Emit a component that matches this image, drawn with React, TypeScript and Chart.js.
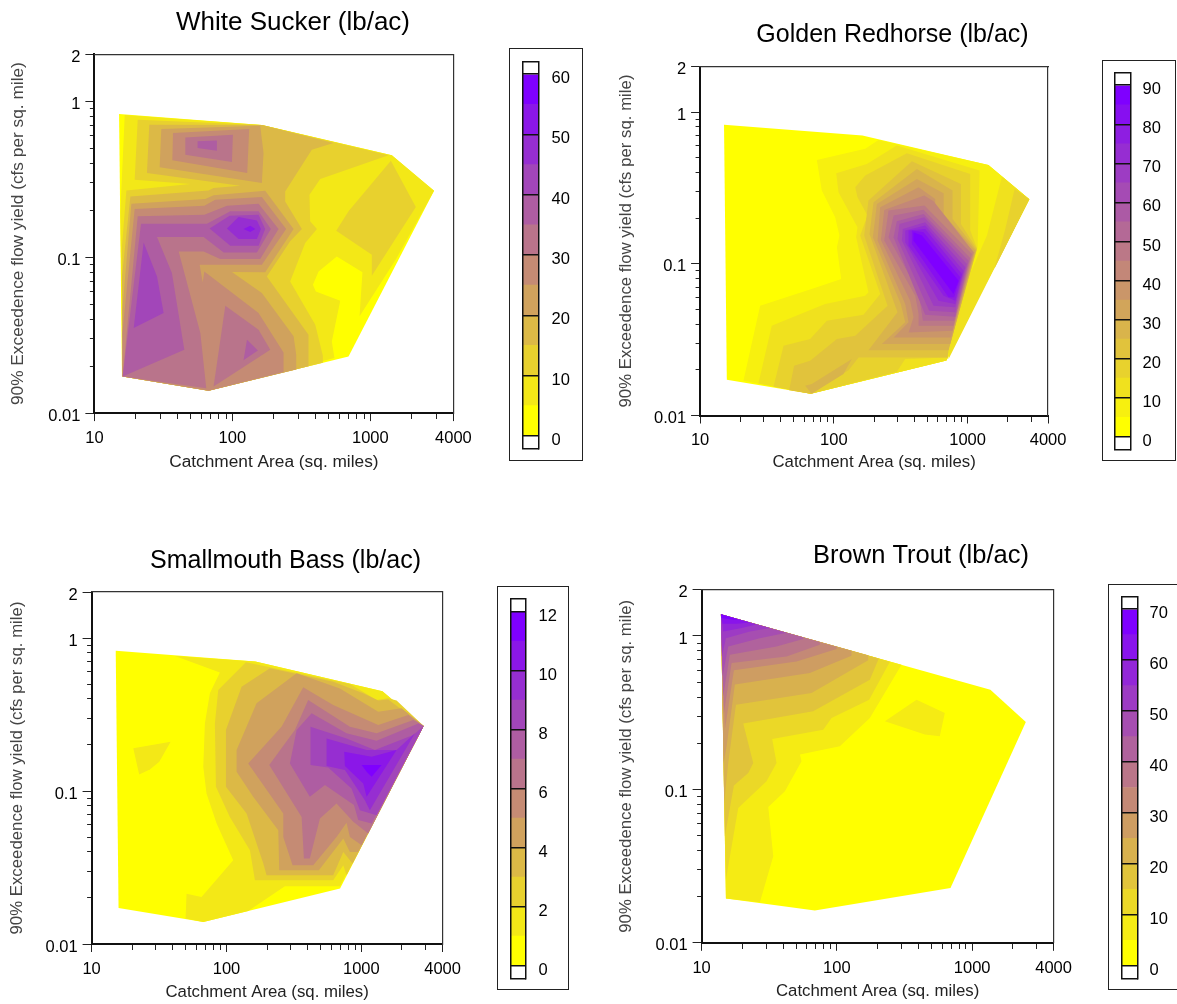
import React, { useEffect, useRef } from "react";
import { Chart, registerables } from "chart.js";

Chart.register(...registerables);

type Layer = [number, number[][]];

// Contour regions: [band index, [log10 area, log10 yield] vertices].
const HULL = [[1.179, -0.083], [2.214, -0.154], [3.156, -0.348], [3.462, -0.575], [2.842, -1.637], [1.828, -1.857], [1.2, -1.765]];
const C: number[] = [3.462, -0.575];

const whiteSucker: Layer[] = [
  [0, HULL],
  [1, [[1.22, -0.09], [2.214, -0.154], [3.156, -0.348], [3.462, -0.575], [3.187, -1.013], [2.922, -1.38], [2.943, -1.098], [2.757, -0.996], [2.625, -1.092], [2.584, -1.177], [2.605, -1.22], [2.782, -1.28], [2.721, -1.541], [2.74, -1.647], [1.828, -1.857], [1.205, -1.765], [1.188, -0.718]]],
  [2, [[3.149, -0.382], [3.33, -0.679], [3.011, -1.12], [3.011, -0.985], [2.753, -0.831], [2.842, -0.707]]],
  [2, [[1.314, -0.119], [2.214, -0.154], [3.132, -0.348], [2.637, -0.5], [2.559, -0.6], [2.564, -0.771], [2.613, -0.82], [2.528, -0.91], [2.419, -1.156], [2.601, -1.434], [2.656, -1.632], [2.656, -1.677], [1.828, -1.857], [1.205, -1.765], [1.2, -0.931], [1.232, -0.573], [1.695, -0.532], [1.292, -0.504]]],
  [3, [[1.398, -0.152], [2.214, -0.154], [2.733, -0.269], [2.576, -0.312], [2.383, -0.579], [2.383, -0.643], [2.504, -0.82], [2.419, -0.899], [2.25, -1.124], [2.552, -1.498], [2.552, -1.699], [1.828, -1.857], [1.205, -1.765], [1.2, -1.124], [1.261, -0.611], [1.828, -0.573], [1.864, -0.558], [2.057, -0.543], [1.381, -0.461]]],
  [4, [[1.485, -0.179], [2.202, -0.158], [2.226, -0.333], [2.214, -0.525], [1.473, -0.425]]],
  [4, [[1.268, -0.658], [1.804, -0.628], [1.864, -0.604], [2.238, -0.575], [2.444, -0.82], [2.238, -1.098], [1.997, -1.096], [2.214, -1.231], [2.444, -1.508], [2.463, -1.626], [2.463, -1.72], [1.828, -1.857], [1.205, -1.765], [1.203, -1.338]]],
  [5, [[1.57, -0.205], [2.122, -0.179], [2.108, -0.461], [1.565, -0.38]]],
  [5, [[1.292, -0.692], [1.797, -0.671], [1.876, -0.632], [2.214, -0.615], [2.39, -0.82], [2.214, -1.049], [1.763, -1.049], [1.785, -1.162], [1.797, -1.092], [2.19, -1.359], [2.371, -1.611], [2.371, -1.737], [1.828, -1.857], [1.205, -1.765], [1.203, -1.487]]],
  [6, [[1.659, -0.233], [2.004, -0.216], [1.997, -0.391], [1.659, -0.344]]],
  [6, [[1.314, -0.739], [1.797, -0.729], [1.961, -0.671], [2.19, -0.658], [2.335, -0.82], [2.202, -1.013], [1.912, -1.013], [1.792, -0.964], [1.611, -0.964], [1.768, -1.487], [1.811, -1.84], [1.205, -1.765]]],
  [6, [[1.949, -1.312], [2.19, -1.466], [2.275, -1.594], [1.864, -1.829]]],
  [7, [[1.338, -0.786], [1.816, -0.786], [1.985, -0.707], [2.19, -0.707], [2.279, -0.82], [2.178, -0.97], [1.937, -0.97], [1.792, -0.872], [1.454, -0.872], [1.562, -1.102], [1.652, -1.594], [1.205, -1.765]]],
  [7, [[1.748, -0.258], [1.888, -0.252], [1.888, -0.318], [1.748, -0.301]]],
  [7, [[2.106, -1.53], [2.185, -1.598], [2.081, -1.662]]],
  [8, [[1.835, -0.816], [1.98, -0.735], [2.19, -0.729], [2.238, -0.82], [2.19, -0.927], [1.985, -0.927]]],
  [8, [[1.357, -0.906], [1.454, -1.124], [1.502, -1.359], [1.285, -1.455]]],
  [9, [[1.961, -0.816], [2.045, -0.743], [2.178, -0.765], [2.207, -0.82], [2.178, -0.884], [2.045, -0.884]]],
  [10, [[2.081, -0.82], [2.13, -0.799], [2.166, -0.82], [2.13, -0.84]]],
];

const goldenRedhorse: Layer[] = [
  [0, HULL],
  [1, [[2.334, -0.183], [3.157, -0.348], [3.462, -0.575], [2.842, -1.637], [1.828, -1.857], [1.324, -1.771], [1.449, -1.276], [1.873, -1.155], [2.055, -1.1], [2.023, -0.891], [2.042, -0.814], [2.01, -0.693], [1.91, -0.517], [1.873, -0.315], [2.235, -0.242]]],
  [2, [[3.257, -0.425], [3.462, -0.575], [2.858, -1.628], [2.858, -1.562], [2.995, -1.111], [3.145, -0.814]]],
  [3, [[3.352, -0.506], [3.462, -0.575], [3.2, -1.034], [3.282, -0.77]]],
  [2, [[2.471, -0.22], [3.09, -0.385], [3.075, -0.891], [2.851, -1.617], [2.842, -1.637], [1.828, -1.857], [1.436, -1.789], [1.536, -1.408], [1.599, -1.386], [1.935, -1.265], [2.235, -1.21], [2.259, -1.188], [2.167, -0.825], [2.177, -0.759], [2.035, -0.528], [2.018, -0.403], [2.247, -0.341]]],
  [3, [[2.546, -0.271], [3.02, -0.407], [3.02, -0.781], [3.07, -0.896], [2.858, -1.556], [2.851, -1.617], [2.534, -1.628], [2.471, -1.712], [1.828, -1.857], [1.549, -1.811], [1.624, -1.54], [1.823, -1.496], [1.948, -1.375], [2.222, -1.336], [2.347, -1.199], [2.197, -0.814], [2.252, -0.682], [2.177, -0.561], [2.16, -0.495], [2.235, -0.418]]],
  [4, [[2.584, -0.324], [2.95, -0.473], [2.95, -0.737], [3.07, -0.902], [2.858, -1.556], [2.851, -1.617], [2.185, -1.617], [2.11, -1.701], [1.828, -1.857], [1.666, -1.833], [1.703, -1.672], [1.823, -1.639], [2.023, -1.496], [2.16, -1.474], [2.402, -1.276], [2.227, -0.814], [2.259, -0.583]]],
  [5, [[2.621, -0.374], [2.888, -0.517], [2.888, -0.704], [3.065, -0.909], [2.858, -1.569], [2.259, -1.569], [2.476, -1.32], [2.267, -0.803], [2.297, -0.594]]],
  [5, [[1.786, -1.804], [1.835, -1.793], [2.135, -1.628], [2.072, -1.727], [1.835, -1.857]]],
  [6, [[2.621, -0.44], [2.821, -0.535], [2.821, -0.671], [3.058, -0.913], [2.871, -1.529], [2.359, -1.529], [2.534, -1.386], [2.501, -1.265], [2.292, -0.825], [2.322, -0.605]]],
  [7, [[2.634, -0.495], [2.758, -0.572], [2.758, -0.649], [3.05, -0.925], [2.876, -1.485], [2.447, -1.485], [2.559, -1.386], [2.534, -1.265], [2.327, -0.847], [2.347, -0.627]]],
  [8, [[2.676, -0.55], [2.746, -0.588], [3.045, -0.924], [2.888, -1.441], [2.559, -1.452], [2.596, -1.353], [2.571, -1.243], [2.352, -0.843], [2.377, -0.645]]],
  [9, [[2.678, -0.616], [3.033, -0.935], [2.895, -1.408], [2.634, -1.408], [2.634, -1.331], [2.609, -1.21], [2.377, -0.847], [2.409, -0.649]]],
  [10, [[2.447, -0.682], [2.671, -0.643], [3.02, -0.962], [2.9, -1.375], [2.666, -1.375], [2.634, -1.188], [2.409, -0.825]]],
  [11, [[2.471, -0.72], [2.671, -0.671], [3.008, -0.979], [2.908, -1.349], [2.683, -1.336], [2.447, -0.825]]],
  [12, [[2.491, -0.737], [2.676, -0.693], [2.995, -1.001], [2.908, -1.32], [2.713, -1.309], [2.476, -0.836]]],
  [13, [[2.516, -0.77], [2.683, -0.726], [2.983, -1.023], [2.908, -1.287], [2.746, -1.276], [2.509, -0.847]]],
  [14, [[2.534, -0.781], [2.683, -0.748], [2.97, -1.045], [2.908, -1.265], [2.783, -1.243], [2.534, -0.858]]],
  [15, [[2.559, -0.781], [2.683, -0.77], [2.958, -1.067], [2.908, -1.243], [2.821, -1.21], [2.559, -0.88]]],
  [16, [[2.584, -0.781], [2.671, -0.792], [2.945, -1.089], [2.9, -1.221], [2.858, -1.221], [2.584, -0.869]]],
  [17, [[2.596, -0.792], [2.658, -0.814], [2.933, -1.111], [2.895, -1.199], [2.596, -0.847]]],
];

const smallmouthBass: Layer[] = [
  [0, HULL],
  [1, [[1.618, -0.117], [2.214, -0.154], [3.156, -0.348], C, [2.841, -1.623], [2.433, -1.623], [2.161, -1.784], [1.828, -1.857], [1.697, -1.834], [1.704, -1.671], [1.815, -1.692], [2.05, -1.452], [1.927, -1.212], [1.852, -1.016], [1.828, -0.841], [1.84, -0.558], [1.877, -0.361], [1.951, -0.226]]],
  [1, [[1.309, -0.721], [1.586, -0.678], [1.502, -0.809], [1.432, -0.859], [1.353, -0.892]]],
  [2, [[2.144, -0.158], [2.915, -0.3], [3.113, -0.405], [3.199, -0.394], [3.261, -0.409], C, [2.89, -1.551], [2.866, -1.485], [2.791, -1.583], [2.211, -1.583], [2.174, -1.387], [2.025, -1.169], [1.922, -0.972], [1.914, -0.558], [1.939, -0.34]]],
  [3, [[2.322, -0.198], [2.791, -0.285], [3.014, -0.361], [3.125, -0.409], [3.199, -0.401], C, [2.935, -1.474], [2.866, -1.398], [2.791, -1.551], [2.297, -1.551], [2.273, -1.474], [2.149, -1.147], [1.996, -0.972], [1.996, -0.601], [2.112, -0.318]]],
  [4, [[2.52, -0.23], [2.841, -0.329], [3.125, -0.481], [3.298, -0.459], C, [2.977, -1.398], [2.915, -1.398], [2.866, -1.31], [2.685, -1.518], [2.391, -1.518], [2.384, -1.256], [2.198, -1.038], [2.075, -0.874], [2.075, -0.732], [2.223, -0.427]]],
  [5, [[2.569, -0.322], [2.791, -0.438], [3.125, -0.569], [3.347, -0.503], C, [3.002, -1.354], [2.915, -1.3], [2.89, -1.208], [2.816, -1.3], [2.643, -1.485], [2.49, -1.485], [2.421, -1.3], [2.421, -1.147], [2.161, -0.82], [2.408, -0.58]]],
  [6, [[2.606, -0.405], [2.915, -0.58], [3.113, -0.623], [3.385, -0.536], C, [3.051, -1.278], [2.94, -1.201], [2.816, -1.081], [2.693, -1.18], [2.618, -1.441], [2.574, -1.441], [2.557, -1.169], [2.317, -0.83], [2.507, -0.601]]],
  [7, [[2.631, -0.492], [2.89, -0.623], [3.113, -0.671], [3.422, -0.558], C, [3.076, -1.212], [2.977, -1.19], [2.945, -1.092], [2.73, -0.961], [2.618, -1.038], [2.47, -0.82], [2.52, -0.601]]],
  [8, [[2.623, -0.58], [2.89, -0.656], [3.1, -0.732], [3.385, -0.634], C, [3.113, -1.158], [2.989, -1.125], [2.927, -0.983], [2.754, -0.846], [2.623, -0.83]]],
  [9, [[2.742, -0.656], [3.039, -0.732], [3.261, -0.732], [3.397, -0.623], [3.063, -1.125], [3.026, -1.06], [2.878, -0.863], [2.742, -0.837]]],
  [10, [[2.873, -0.743], [3.076, -0.776], [3.261, -0.732], [3.039, -1.038], [3.014, -0.95], [2.878, -0.837]]],
  [11, [[3.002, -0.83], [3.15, -0.83], [3.076, -0.907], [3.039, -0.874]]],
];

const APEX: number[] = [1.143, 0.141];
const brownTrout: Layer[] = [
  [0, [APEX, [3.135, -0.35], [3.397, -0.561], [2.84, -1.642], [1.837, -1.789], [1.18, -1.711]]],
  [1, [APEX, [2.478, -0.187], [2.244, -0.535], [2.022, -0.719], [1.727, -0.773], [1.739, -0.817], [1.616, -1.012], [1.493, -1.114], [1.53, -1.436], [1.431, -1.735], [1.18, -1.711]]],
  [1, [[2.355, -0.556], [2.589, -0.415], [2.798, -0.502], [2.761, -0.654], [2.65, -0.643]]],
  [2, [APEX, [2.392, -0.168], [2.239, -0.415], [1.961, -0.535], [1.899, -0.611], [1.522, -0.671], [1.554, -0.828], [1.48, -0.947], [1.271, -1.121], [1.18, -1.588]]],
  [3, [APEX, [2.31, -0.146], [2.244, -0.285], [1.825, -0.491], [1.308, -0.571], [1.382, -0.828], [1.345, -0.893], [1.239, -0.975], [1.172, -1.305]]],
  [4, [APEX, [2.232, -0.126], [2.232, -0.159], [1.813, -0.372], [1.254, -0.448], [1.197, -0.828], [1.167, -1.088]]],
  [5, [APEX, [2.108, -0.096], [2.108, -0.129], [1.8, -0.241], [1.246, -0.317], [1.185, -0.719], [1.163, -0.828]]],
  [6, [APEX, [1.998, -0.07], [1.998, -0.085], [1.702, -0.166], [1.239, -0.224], [1.172, -0.611]]],
  [7, [APEX, [1.874, -0.04], [1.874, -0.057], [1.628, -0.133], [1.222, -0.176], [1.165, -0.502]]],
  [8, [APEX, [1.751, -0.009], [1.751, -0.02], [1.554, -0.068], [1.209, -0.122], [1.16, -0.393]]],
  [9, [APEX, [1.628, 0.021], [1.431, -0.014], [1.197, -0.068], [1.155, -0.263]]],
  [10, [APEX, [1.505, 0.052], [1.357, 0.03], [1.18, -0.014], [1.15, -0.133]]],
  [11, [APEX, [1.406, 0.075], [1.296, 0.052], [1.16, 0.03]]],
  [12, [APEX, [1.357, 0.088], [1.259, 0.08], [1.155, 0.08]]],
  [13, [APEX, [1.271, 0.108], [1.234, 0.106], [1.148, 0.117]]],
];

const xMinorTicks = [20, 30, 40, 50, 60, 70, 80, 90, 200, 300, 400, 500, 600, 700, 800, 900, 2000, 3000];
const xMajorTicks = [10, 100, 1000, 4000];
const yMinorTicks = [0.02, 0.03, 0.04, 0.05, 0.06, 0.07, 0.08, 0.09, 0.2, 0.3, 0.4, 0.5, 0.6, 0.7, 0.8, 0.9];
const yMajorTicks = [0.01, 0.1, 1, 2];

const whiteSuckerLegend = [0, 10, 20, 30, 40, 50, 60];
const goldenRedhorseLegend = [0, 10, 20, 30, 40, 50, 60, 70, 80, 90];
const smallmouthBassLegend = [0, 2, 4, 6, 8, 10, 12];
const brownTroutLegend = [0, 10, 20, 30, 40, 50, 60, 70];

const FONT = "'Liberation Sans', Arial, sans-serif";

const bandColor = (i: number, n: number) => {
  const t = i / (n - 1);
  return `rgb(${Math.round(255 - 128 * t)},${Math.round(255 * (1 - t))},${Math.round(255 * t)})`;
};

const toData = (pts: number[][]) => pts.map(([a, b]) => ({ x: Math.pow(10, a), y: Math.pow(10, b) }));
const sized = (dim: "width" | "height", v: number) => (s: any) => {
  s[dim] = v;
  s.paddingTop = 0;
  s.paddingBottom = 0;
  s.paddingLeft = 0;
  s.paddingRight = 0;
};

const panels = [
  { title: "White Sucker (lb/ac)", layers: whiteSucker, bands: 12, left: 94, right: 453, top: 54, bottom: 413, titleX: 292.5, titleY: 22.5, titleF: 26, axisF: 17.3, yTitleX: 18, xTitleY: 463,
    legend: whiteSuckerLegend, step: 5, cap: 2.1, box: [509, 48, 584, 462], bar: [523, 62, 539, 449], labelPad: 13 },
  { title: "Golden Redhorse (lb/ac)", layers: goldenRedhorse, bands: 18, left: 700, right: 1048, top: 66, bottom: 415, titleX: 892.5, titleY: 34.5, titleF: 25, axisF: 16.8, yTitleX: 626, xTitleY: 461.5,
    legend: goldenRedhorseLegend, step: 5, cap: 3.25, box: [1102, 60, 1177, 462], bar: [1115, 73, 1131, 450], labelPad: 12 },
  { title: "Smallmouth Bass (lb/ac)", layers: smallmouthBass, bands: 12, left: 92, right: 443, top: 592, bottom: 944, titleX: 285.7, titleY: 561, titleF: 25, axisF: 16.8, yTitleX: 17.5, xTitleY: 991.5,
    legend: smallmouthBassLegend, step: 1, cap: 0.44, box: [497, 586, 570, 991], bar: [511, 599, 526, 979], labelPad: 13 },
  { title: "Brown Trout (lb/ac)", layers: brownTrout, bands: 14, left: 702, right: 1054, top: 590, bottom: 943, titleX: 921.3, titleY: 556.5, titleF: 25.5, axisF: 16.8, yTitleX: 626.5, xTitleY: 991.5,
    legend: brownTroutLegend, step: 5, cap: 2.5, box: [1108, 584, 1184, 991], bar: [1122, 597, 1138, 979], labelPad: 12 },
];

const TICK_F = 16.5, LH = 1.2;

function ContourPanel({ p }: { p: (typeof panels)[number] }) {
  const ref = useRef<HTMLCanvasElement>(null);
  const cl = p.yTitleX - (p.axisF * LH) / 2;
  const ct = p.titleY - (p.titleF * LH) / 2;
  const W = Math.round(2 * (p.titleX - cl));
  const H = Math.round(p.xTitleY + (p.axisF * LH) / 2 - ct);
  useEffect(() => {
    const major = (v: number, list: number[]) => list.some((m) => Math.abs(m - v) < 1e-9);
    const chart = new Chart(ref.current!, {
      type: "scatter",
      data: {
        datasets: p.layers.map(([band, pts], i) => ({
          data: toData(pts),
          xAxisID: "x",
          yAxisID: "y",
          showLine: true,
          fill: "shape",
          backgroundColor: bandColor(band, p.bands),
          borderColor: bandColor(band, p.bands),
          borderWidth: 0,
          pointRadius: 0,
          tension: 0,
          order: p.layers.length - i,
        })),
      } as any,
      options: {
        responsive: false,
        animation: false,
        events: [],
        layout: { padding: 0 },
        plugins: {
          legend: { display: false },
          tooltip: { enabled: false },
          title: {
            display: true,
            text: p.title,
            color: "#000",
            font: { family: FONT, size: p.titleF, weight: "normal", lineHeight: LH },
            padding: { top: 0, bottom: p.top - ct - p.titleF * LH },
          },
        },
        scales: {
          x: {
            type: "logarithmic",
            position: "bottom",
            min: 10,
            max: 4000,
            afterBuildTicks: (s: any) => { s.ticks = [...xMajorTicks, ...xMinorTicks].sort((a, b) => a - b).map((value) => ({ value })); },
            afterFit: sized("height", H - (p.bottom - ct)),
            ticks: {
              autoSkip: false, maxRotation: 0, padding: 7.5, color: "#000",
              font: { family: FONT, size: TICK_F },
              callback: (v: any) => (major(Number(v), xMajorTicks) ? String(v) : ""),
            },
            grid: {
              drawOnChartArea: false, tickLength: 8, color: "#222", lineWidth: 1,
              tickBorderDash: (c: any) => (major(c.tick.value, xMajorTicks) ? [] : [5, 100]),
            },
            border: { display: true, color: "#111", width: 2 },
            title: { display: true, text: "Catchment Area (sq. miles)", color: "#222", padding: 0, font: { family: FONT, size: p.axisF, lineHeight: LH } },
          },
          y: {
            type: "logarithmic",
            position: "left",
            min: 0.01,
            max: 2,
            afterBuildTicks: (s: any) => { s.ticks = [...yMajorTicks, ...yMinorTicks].sort((a, b) => a - b).map((value) => ({ value })); },
            afterFit: sized("width", p.left - cl),
            ticks: {
              autoSkip: false, maxRotation: 0, padding: 5, labelOffset: 3, color: "#000",
              font: { family: FONT, size: TICK_F },
              callback: (v: any) => (major(Number(v), yMajorTicks) ? String(v) : ""),
            },
            grid: {
              drawOnChartArea: false, tickLength: 9, color: "#222", lineWidth: 1,
              tickBorderDash: (c: any) => (major(c.tick.value, yMajorTicks) ? [] : [0, 4.5, 4.5, 100]),
            },
            border: { display: true, color: "#111", width: 2 },
            title: { display: true, text: "90% Exceedence flow yield (cfs per sq. mile)", color: "#444", padding: 0, font: { family: FONT, size: p.axisF, lineHeight: LH } },
          },
          xTop: {
            type: "linear", position: "top", min: 0, max: 1,
            afterFit: sized("height", 0),
            ticks: { display: false },
            grid: { drawOnChartArea: false, drawTicks: false },
            border: { display: true, color: "#333", width: 1.2 },
          },
          yRight: {
            type: "linear", position: "right", min: 0, max: 1,
            afterFit: sized("width", W - (p.right - cl)),
            ticks: { display: false },
            grid: { drawOnChartArea: false, drawTicks: false },
            border: { display: true, color: "#333", width: 1.2 },
          },
        },
      } as any,
    });
    return () => chart.destroy();
  }, [p]);
  return <canvas ref={ref} width={W} height={H} style={{ position: "absolute", left: cl, top: ct }} />;
}

function ColorBar({ p }: { p: (typeof panels)[number] }) {
  const ref = useRef<HTMLCanvasElement>(null);
  const BW = 1.5;
  const [bl, bt, br, bb] = p.box;
  const [l, t, r, b] = p.bar;
  const W = br - bl - 2 * BW;
  const H = bb - bt - 2 * BW;
  useEffect(() => {
    const ticks = p.legend;
    const top = ticks[ticks.length - 1];
    const lows = Array.from({ length: p.bands }, (_, i) => i * p.step);
    const hidden = {
      ticks: { display: false },
      grid: { drawOnChartArea: false, drawTicks: false },
      border: { display: true, color: "#111", width: 1.5, z: 2 },
    };
    const ax = { xAxisID: "x", yAxisID: "y" };
    const chart = new Chart(ref.current!, {
      type: "bar",
      data: {
        labels: ["scale"],
        datasets: [
          { ...ax, data: [[-p.cap, 0]], backgroundColor: "#fff" },
          { ...ax, data: [[top, top + p.cap]], backgroundColor: "#fff" },
          ...lows.map((lo, i) => ({ ...ax, data: [[lo, lo + p.step]], backgroundColor: bandColor(i, p.bands) })),
        ],
      } as any,
      options: {
        responsive: false,
        animation: false,
        events: [],
        datasets: { bar: { barPercentage: 1, categoryPercentage: 1, grouped: false, borderWidth: 0 } },
        layout: { padding: { left: l - bl - BW, right: 0, top: t - bt - BW, bottom: bb - b - BW } },
        plugins: { legend: { display: false }, tooltip: { enabled: false }, title: { display: false } },
        scales: {
          x: { type: "category", position: "bottom", ...hidden, afterFit: sized("height", 0) },
          xTop: { type: "linear", position: "top", min: 0, max: 1, ...hidden, afterFit: sized("height", 0) },
          yLeft: { type: "linear", position: "left", min: 0, max: 1, ...hidden, afterFit: sized("width", 0) },
          y: {
            type: "linear",
            position: "right",
            min: -p.cap,
            max: top + p.cap,
            afterBuildTicks: (s: any) => { s.ticks = ticks.map((value) => ({ value })); },
            afterFit: sized("width", W - (r - bl - BW)),
            ticks: { autoSkip: false, padding: p.labelPad, labelOffset: 4.5, color: "#000", font: { family: FONT, size: TICK_F } },
            grid: { drawOnChartArea: true, drawTicks: false, color: "#111", lineWidth: 1.5, z: 1 },
            border: { display: true, color: "#111", width: 1.5, z: 2 },
          },
        },
      } as any,
    });
    return () => chart.destroy();
  }, [p]);
  return (
    <canvas
      ref={ref}
      width={W}
      height={H}
      style={{ position: "absolute", left: bl, top: bt, border: `${BW}px solid #222`, boxSizing: "content-box" }}
    />
  );
}

export default function App() {
  return (
    <div style={{ position: "absolute", left: 0, top: 0, width: 1177, height: 1004, overflow: "hidden", background: "#fff" }}>
      {panels.map((p) => (
        <React.Fragment key={p.title}>
          <ContourPanel p={p} />
          <ColorBar p={p} />
        </React.Fragment>
      ))}
    </div>
  );
}
